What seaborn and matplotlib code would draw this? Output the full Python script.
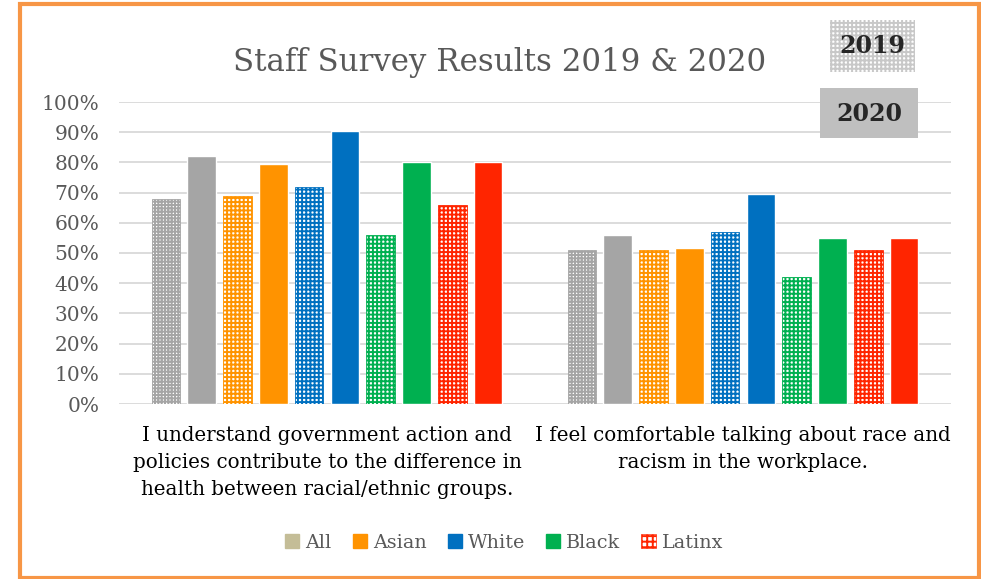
import pandas as pd
import seaborn as sns
import matplotlib.pyplot as plt
from matplotlib.patches import Patch, Rectangle
from matplotlib.ticker import PercentFormatter

# data
questions = ["I understand government action and\npolicies contribute to the difference in\nhealth between racial/ethnic groups.",
             "I feel comfortable talking about race and\nracism in the workplace."]
groups = ["All", "Asian", "White", "Black", "Latinx"]
vals_2019 = [[68, 69, 72, 56, 66], [51, 51, 57, 42, 51]]
vals_2020 = [[82, 79.5, 90.5, 80, 80], [56, 51.5, 69.5, 55, 55]]
colors = ["#A5A5A5", "#FF9300", "#0070C0", "#00B050", "#FF2500"]
legend_colors = ["#C4BD97", "#FF9300", "#0070C0", "#00B050", "#FF2500"]

rows = []
for qi, q in enumerate(questions):
    for gi, g in enumerate(groups):
        rows.append((q, g + " 2019", vals_2019[qi][gi] / 100))
        rows.append((q, g + " 2020", vals_2020[qi][gi] / 100))
df = pd.DataFrame(rows, columns=["question", "series", "value"])
hue_order = [g + " " + y for g in groups for y in ["2019", "2020"]]
palette = {g + " " + y: c for g, c in zip(groups, colors) for y in ["2019", "2020"]}

sns.set_style("white")
plt.rcParams['font.family'] = ['DejaVu Serif']
plt.rcParams['hatch.linewidth'] = 1.4

fig = plt.figure(figsize=(9.81, 5.79), dpi=100)
ax = fig.add_axes([119 / 981, 175 / 579, 832 / 981, 302 / 579])
sns.barplot(data=df, x="question", y="value", hue="series", hue_order=hue_order,
            palette=palette, width=0.86, gap=0.2, saturation=1, ax=ax, legend=False)

# 2019 bars get the patterned fill
for i, cont in enumerate(ax.containers):
    if i % 2 == 0:
        c = colors[i // 2]
        for bar in cont:
            bar.set_facecolor("white")
            bar.set_edgecolor(c)
            bar.set_hatch("++++" if i > 0 else "+++++")
            bar.set_linewidth(0.6)

ax.set_ylim(0, 1)
ax.set_xlim(-0.5, 1.5)
ax.set_yticks([i / 10 for i in range(11)])
ax.yaxis.set_major_formatter(PercentFormatter(1.0, decimals=0))
ax.grid(axis="y", color="#D9D9D9", linewidth=1.3)
ax.set_axisbelow(True)
for s in ax.spines.values():
    s.set_visible(False)
ax.set_xlabel("")
ax.set_ylabel("")
ax.tick_params(axis="y", labelsize=14.5, labelcolor="#595959", length=0, pad=14)
ax.tick_params(axis="x", length=0, labelbottom=False)

# category labels, drawn as text so the line spacing can be set
for xi, q in enumerate(questions):
    ax.text(xi, -0.072, q, transform=ax.get_xaxis_transform(), ha="center", va="top",
            fontsize=14.3, linespacing=1.55, color="black")

fig.text(500 / 981, 1 - 62 / 579, "Staff Survey Results 2019 & 2020", ha="center", va="center",
         fontsize=22.2, color="#595959")

# year boxes
fig.patches.append(Rectangle((830 / 981, 1 - 72 / 579), 85 / 981, 52 / 579, transform=fig.transFigure,
                             facecolor="white", edgecolor="#C8C8C8", hatch="++++", linewidth=0))
fig.text(872 / 981, 1 - 46 / 579, "2019", ha="center", va="center", fontsize=17, fontweight="bold")
fig.patches.append(Rectangle((820 / 981, 1 - 138 / 579), 98 / 981, 50 / 579, transform=fig.transFigure,
                             facecolor="#BFBFBF", linewidth=0))
fig.text(869 / 981, 1 - 114 / 579, "2020", ha="center", va="center", fontsize=17, fontweight="bold")

# legend
handles = []
for g, c in zip(groups, legend_colors):
    if g == "Latinx":
        handles.append(Patch(facecolor="white", edgecolor=c, hatch="+++", linewidth=0.5, label=g))
    else:
        handles.append(Patch(facecolor=c, edgecolor=c, label=g))
leg = fig.legend(handles=handles, loc="center", bbox_to_anchor=(504 / 981, 1 - 543 / 579), ncol=5,
                 frameon=False, fontsize=13.8, handlelength=0.75, handleheight=0.75,
                 handletextpad=0.3, columnspacing=1.1)
for t in leg.get_texts():
    t.set_color("#595959")

# orange frame
fig.patches.append(Rectangle((20 / 981, 1 / 579), 959 / 981, 574 / 579, transform=fig.transFigure,
                             facecolor="none", edgecolor="#F79646", linewidth=3))

fig.savefig("out.png", dpi=100)
